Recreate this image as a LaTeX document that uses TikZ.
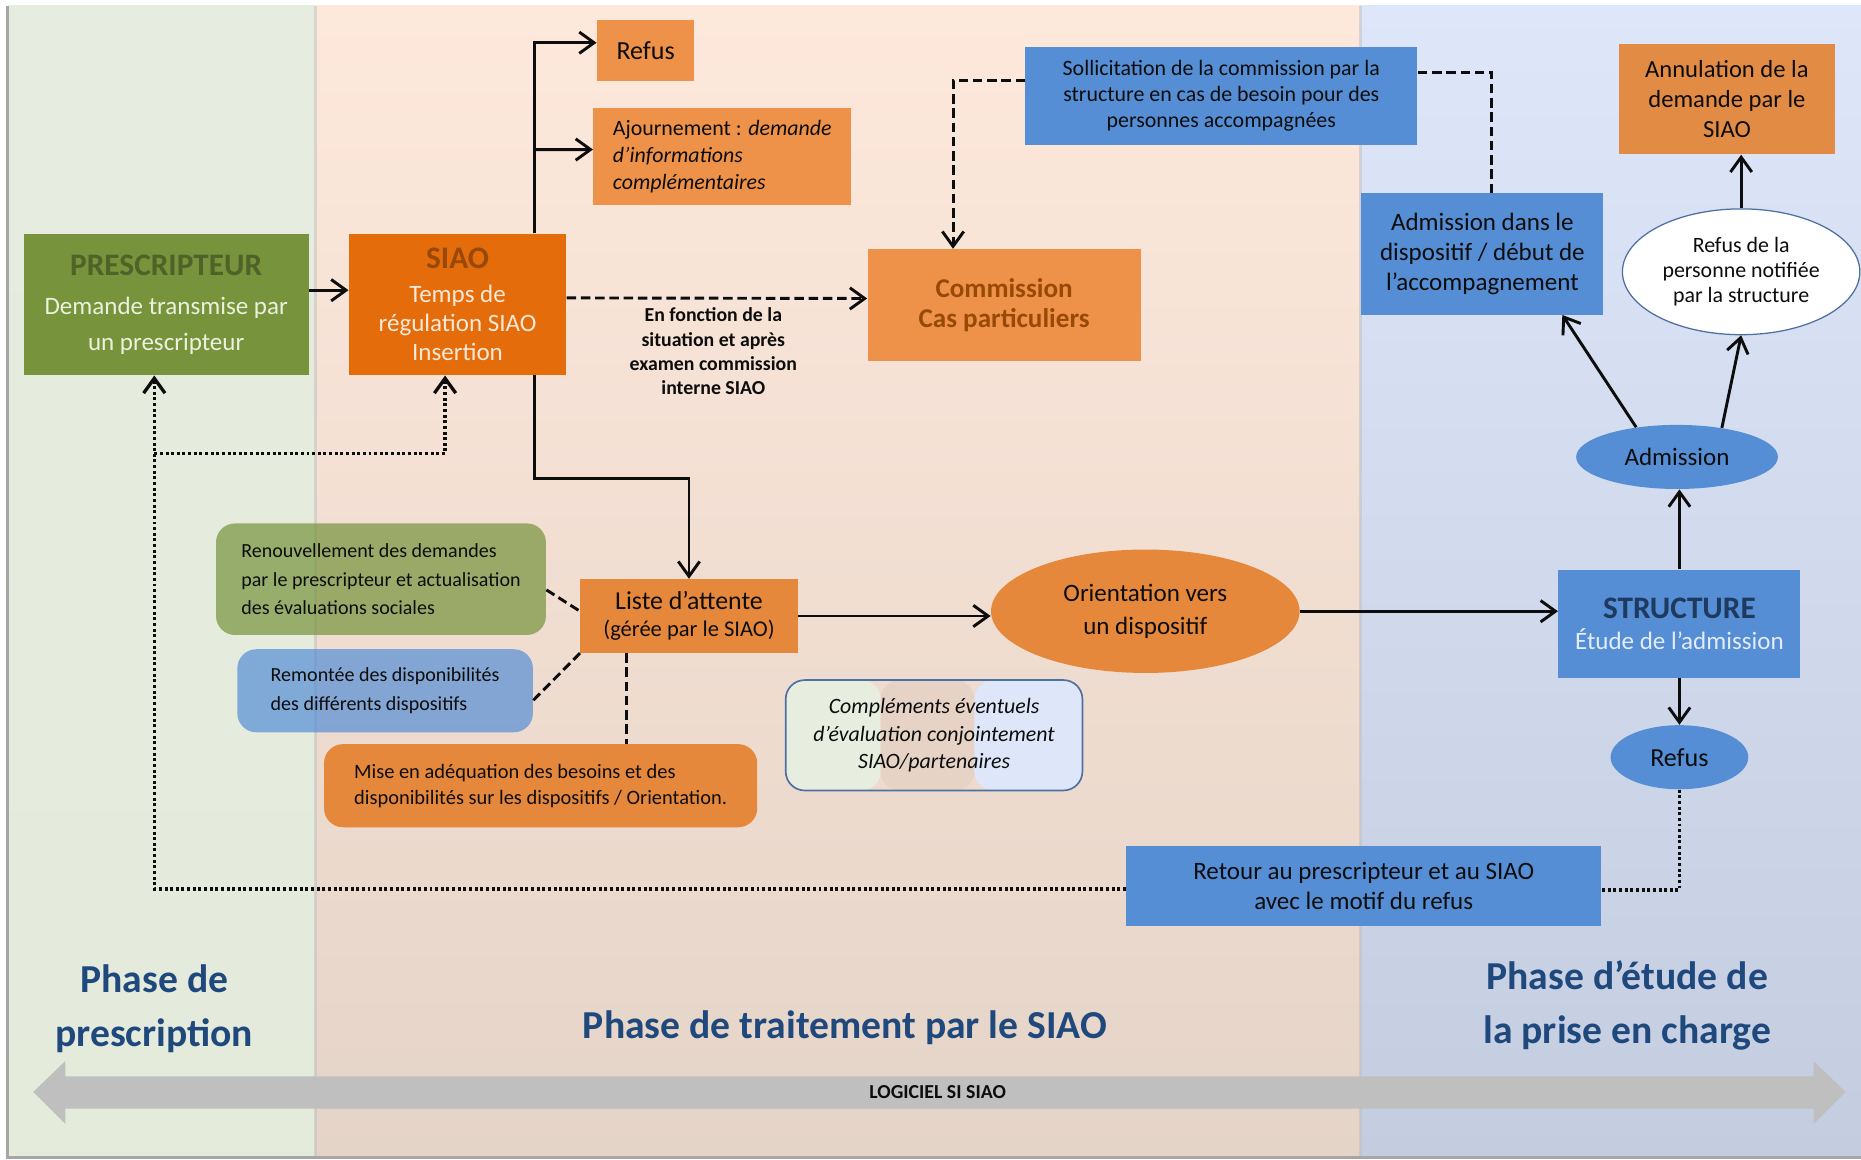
\documentclass[tikz,border=0pt]{standalone}
\usepackage{fontspec}
\setmainfont{Carlito}
\usepackage{tikz}
\usetikzlibrary{arrows.meta,positioning,calc,shapes.geometric}
\definecolor{ink}{HTML}{0D0D0D}
\definecolor{prescfill}{HTML}{77933C}
\definecolor{prescdark}{HTML}{4F6228}
\definecolor{prescpale}{HTML}{EBF1DE}
\definecolor{siaofill}{HTML}{E46C0A}
\definecolor{siaodark}{HTML}{984807}
\definecolor{siaopale}{HTML}{FDE9D9}
\definecolor{orlight}{HTML}{EE9249}
\definecolor{ormid}{HTML}{E6883C}
\definecolor{bluefill}{HTML}{558ED5}
\definecolor{bluedark}{HTML}{1F3A5F}
\definecolor{bluepale}{HTML}{E3ECF8}
\definecolor{phaseblue}{HTML}{1F497D}
\definecolor{edgeblue}{HTML}{4F6FA0}
\definecolor{arrowgrey}{HTML}{BFBFBF}
\definecolor{framegrey}{HTML}{A6A6A6}
\definecolor{greentop}{HTML}{E6ECE0}
\definecolor{greenmid}{HTML}{D8E3CC}
\definecolor{greenbot}{HTML}{E4EBDB}
\definecolor{peachtop}{HTML}{FEE8DC}
\definecolor{peachmid}{HTML}{F4CBB1}
\definecolor{peachbot}{HTML}{E4D4C7}
\definecolor{bluetop}{HTML}{DEE7F9}
\definecolor{bluemid}{HTML}{C6D7F5}
\definecolor{bluebot}{HTML}{C4CCE0}
\definecolor{stripegreen}{HTML}{E8EEDF}
\definecolor{stripepeach}{HTML}{E6D3C5}
\definecolor{stripeblue}{HTML}{DEE7F9}

\begin{document}
\begin{tikzpicture}[
  x=0.2mm, y=-0.2mm,
  font=\fontsize{12}{15}\selectfont, text=ink,
  box/.style={rectangle, inner sep=1pt, align=center},
  orbox/.style={box, fill=orlight},
  bluebox/.style={box, fill=bluefill},
  bubble/.style={ellipse, inner sep=0pt, align=center},
  note/.style={box, rounded corners=3.2mm, align=left},
  arr/.style={-{Straight Barb[length=2.5mm,width=3.6mm]}, line width=1.4pt, draw=ink},
  dashline/.style={line width=1.4pt, draw=ink, dash pattern=on 1.6mm off 0.8mm},
  dotline/.style={line width=1.6pt, draw=ink, dash pattern=on 0.5mm off 0.45mm},
  phase/.style={font=\fontsize{19}{26}\selectfont\bfseries, text=phaseblue, align=center}
]

\useasboundingbox (0,0) rectangle (1568,977);
\fill[white] (0,0) rectangle (1568,977);

% the three phases
\shade[top color=greentop, middle color=greenmid, bottom color=greenbot] (7,5) rectangle (266,975);
\shade[top color=peachtop, middle color=peachmid, bottom color=peachbot] (266,5) rectangle (1146,975);
\shade[top color=bluetop, middle color=bluemid, bottom color=bluebot] (1146,5) rectangle (1568,975);
\draw[black!25, opacity=0.5, line width=0.5mm] (266,5) -- (266,975);
\draw[black!25, opacity=0.5, line width=0.5mm] (1146,5) -- (1146,975);
\draw[framegrey, line width=0.5mm] (6,5) -- (6,975.5) -- (1568,975.5);

% nodes
\node[box, fill=prescfill, minimum width=48mm, minimum height=23.8mm, text=prescpale,
  font=\fontsize{12}{17}\selectfont] (presc) at (140,256.5)
  {{\fontsize{15}{17}\selectfont\bfseries\color{prescdark}PRESCRIPTEUR}\\[2pt]Demande transmise par\\un prescripteur};
\node[box, fill=siaofill, minimum width=36.6mm, minimum height=23.8mm, text=siaopale,
  font=\fontsize{12}{14}\selectfont] (siao) at (385.5,256.5)
  {{\fontsize{15}{16}\selectfont\bfseries\color{siaodark}SIAO}\\[2.4pt]Temps de\\régulation SIAO\\Insertion};

\node[orbox, minimum width=16.4mm, minimum height=10.2mm, font=\fontsize{12.5}{15}\selectfont] (refus1) at (544,42.5) {Refus};
\node[orbox, align=left, minimum width=43.4mm, minimum height=16.4mm,
  font=\fontsize{10.5}{13}\selectfont] (ajourn) at (608.5,132)
  {Ajournement : \textit{demande}\\\textit{d’informations}\\\textit{complémentaires}};
\node[orbox, minimum width=46mm, minimum height=18.8mm, text=siaodark,
  font=\fontsize{13}{14.5}\selectfont\bfseries] (commission) at (846,257)
  {Commission\\Cas particuliers};
\node[font=\fontsize{9.5}{11.6}\selectfont\bfseries, align=center] (fonction) at (601,296)
  {En fonction de la\\situation et après\\examen commission\\interne SIAO};

\node[bluebox, minimum width=66mm, minimum height=16.4mm,
  font=\fontsize{10.5}{12.5}\selectfont] (sollic) at (1029,81)
  {Sollicitation de la commission par la\\structure en cas de besoin pour des\\personnes accompagnées};
\node[bluebox, minimum width=40.8mm, minimum height=20.4mm,
  font=\fontsize{12}{14.5}\selectfont] (admdisp) at (1249,214)
  {Admission dans le\\dispositif / début de\\l’accompagnement};
\node[box, fill=orlight!95!black, minimum width=36.4mm, minimum height=18.6mm,
  font=\fontsize{11.8}{14.5}\selectfont] (annul) at (1455,83.5)
  {Annulation de la\\demande par le\\SIAO};
\node[bubble, fill=white, draw=edgeblue, line width=0.6pt, minimum width=40mm, minimum height=21.2mm,
  font=\fontsize{10.5}{12}\selectfont] (refpers) at (1467,229)
  {Refus de la\\personne notifiée\\par la structure};
\node[bubble, fill=bluefill, minimum width=34mm, minimum height=10.8mm] (admell) at (1413,385) {Admission};
\node[bluebox, minimum width=40.8mm, minimum height=18.2mm] (structure) at (1415,525.5)
  {{\fontsize{15}{16}\selectfont\bfseries\color{bluedark}STRUCTURE}\\{\color{bluepale}Étude de l’admission}};
\node[bubble, fill=bluefill, minimum width=23.2mm, minimum height=10.8mm, font=\fontsize{12.5}{15}\selectfont] (refell) at (1415,638) {Refus};
\node[bluebox, minimum width=80mm, minimum height=13.4mm,
  font=\fontsize{12}{14.5}\selectfont] (retour) at (1149,746.5)
  {Retour au prescripteur et au SIAO\\avec le motif du refus};

\node[bubble, fill=ormid, minimum width=52mm, minimum height=20.8mm,
  font=\fontsize{12}{16}\selectfont] (orient) at (965,515) {Orientation vers\\un dispositif};
\node[box, fill=ormid, minimum width=36.6mm, minimum height=12.4mm,
  font=\fontsize{12.4}{13}\selectfont] (liste) at (580.5,519)
  {Liste d’attente\\{\fontsize{10.8}{12}\selectfont(gérée par le SIAO)}};

\node[note, fill=prescfill, fill opacity=0.7, text opacity=1, minimum width=55.6mm, minimum height=18.8mm,
  font=\fontsize{9.6}{13.6}\selectfont] (renouv) at (321,488)
  {Renouvellement des demandes\\par le prescripteur et actualisation\\des évaluations sociales};
\node[note, fill=bluefill, fill opacity=0.7, text opacity=1, minimum width=49.8mm, minimum height=14mm,
  font=\fontsize{9.6}{13.6}\selectfont] (remont) at (324.5,582)
  {Remontée des disponibilités\\des différents dispositifs};
\node[note, fill=ormid, minimum width=73mm, minimum height=14mm,
  font=\fontsize{9.8}{12.5}\selectfont] (mise) at (455.5,662)
  {Mise en adéquation des besoins et des\\disponibilités sur les dispositifs / Orientation.};
\node[note, align=center, draw=edgeblue, line width=0.8pt, minimum width=50mm, minimum height=18.6mm,
  font=\fontsize{10.5}{13}\selectfont\itshape,
  path picture={
    \fill[stripegreen] (path picture bounding box.north west) rectangle ([xshift=16mm]path picture bounding box.south west);
    \fill[stripepeach] ([xshift=16mm]path picture bounding box.north west) rectangle ([xshift=31.8mm]path picture bounding box.south west);
    \fill[stripeblue] ([xshift=31.8mm]path picture bounding box.north west) rectangle (path picture bounding box.south east);
  }] (complem) at (787,619.5)
  {Compléments éventuels\\d’évaluation conjointement\\SIAO/partenaires};

% phases and software band
\node[phase] (ph1) at (130,850) {Phase de\\prescription};
\node[phase] (ph2) at (712,866) {Phase de traitement par le SIAO};
\node[phase] (ph3) at (1371,847) {Phase d’étude de\\la prise en charge};
\fill[arrowgrey] (28,920) -- (55,894) -- (55,907) -- (1528,907) -- (1528,894) -- (1555,920)
  -- (1528,947) -- (1528,934) -- (55,934) -- (55,947) -- cycle;
\node[font=\fontsize{9.5}{10}\selectfont\bfseries] (logiciel) at (790,920) {LOGICIEL SI SIAO};

% connectors
\coordinate (trunk) at ([xshift=12.9mm]siao.north);
\coordinate (junc) at ([xshift=-2mm,yshift=-13.2mm]presc.south);

\draw[arr] ([yshift=2.4mm]presc.east) -- ([yshift=2.4mm]siao.west);
\draw[arr] (trunk) |- ([yshift=1.3mm]refus1.west);
\draw[arr] (trunk |- ajourn.west) ++(0,-6) -- ([yshift=1.2mm]ajourn.west);
\draw[arr, dashline] ([yshift=1.1mm]siao.east) -- ([yshift=1.1mm]commission.west);
\draw[arr] (trunk |- siao.south) -- ++(0,87) -| (liste.north);
\draw[arr, dashline] ([yshift=2.6mm]sollic.west) -| ([xshift=-8.6mm]commission.north);
\draw[dashline] ([xshift=1.6mm]admdisp.north) |- ([yshift=4mm]sollic.east);
\draw[arr] (admell.144) -- ([xshift=-7mm]admdisp.south east);
\draw[arr] (admell.33) -- (refpers.south);
\draw[arr] (refpers.north) -- (refpers.north |- annul.south);
\draw[arr] (structure.north) -- (structure.north |- admell.south);
\draw[arr] (structure.south) -- (structure.south |- refell.north);
\draw[dotline] (refell.south) |- ([yshift=-0.7mm]retour.east);
\draw[arr, dotline] ([yshift=-0.5mm]retour.west) -| ([xshift=-2mm]presc.south);
\draw[arr, dotline] (junc) -| ([xshift=-2.1mm]siao.south);
\draw[arr] (liste.east) -- (liste.east -| orient.west);
\draw[arr] (orient.east) -- (orient.east -| structure.west);
\draw[dashline] ([yshift=-1.8mm]renouv.east) -- ([yshift=0.8mm]liste.west);
\draw[dashline] ([yshift=-1.6mm]remont.east) -- (liste.south west);
\draw[dashline] ([xshift=-10.5mm]liste.south) -- ([xshift=-10.5mm]liste.south |- mise.north);

\end{tikzpicture}
\end{document}
